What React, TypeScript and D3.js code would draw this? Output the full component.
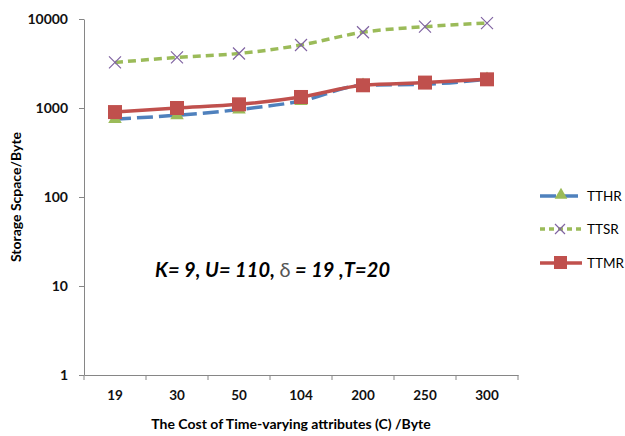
import React, { useRef, useEffect } from "react";
import * as d3 from "d3";

const categories = ["19", "30", "50", "104", "200", "250", "300"];
const tthr = [750, 830, 960, 1200, 1800, 1850, 2100];
const ttsr = [3250, 3700, 4100, 5100, 7100, 8200, 9000];
const ttmr = [900, 1000, 1100, 1330, 1800, 1930, 2100];
const yTicks = [1, 10, 100, 1000, 10000];

const App = () => {
  const svgRef = useRef<SVGSVGElement>(null);

  useEffect(() => {
    const width = 625;
    const height = 436;
    const margin = { top: 19, right: 107, bottom: 61, left: 84 };

    const svg = d3
      .select(svgRef.current)
      .attr("width", width)
      .attr("height", height)
      .style("position", "absolute")
      .style("left", 0)
      .style("top", 0)
      .html("");

    svg.append("rect").attr("width", width).attr("height", height).attr("fill", "#fff");

    const font = "Lato, 'Open Sans', sans-serif";

    const x = d3
      .scaleBand()
      .domain(categories)
      .range([margin.left, width - margin.right]);

    const y = d3
      .scaleLog()
      .domain([1, 10000])
      .range([height - margin.bottom, margin.top]);

    // y axis
    const yAxis = svg
      .append("g")
      .attr("transform", `translate(${margin.left},0)`)
      .call(d3.axisLeft(y).tickValues(yTicks).tickFormat(d3.format("d")).tickSize(5).tickSizeOuter(0));
    yAxis.select(".domain").attr("stroke", "#868686");
    yAxis.selectAll(".tick line").attr("stroke", "#868686");
    yAxis
      .selectAll(".tick text")
      .attr("x", -16)
      .attr("fill", "#111")
      .style("font-family", font)
      .style("font-size", "14px")
      .style("font-weight", "bold");

    // x axis
    const xAxis = svg
      .append("g")
      .attr("transform", `translate(0,${y(1)})`)
      .call(d3.axisBottom(x).tickSize(0).tickSizeOuter(0));
    xAxis.select(".domain").attr("stroke", "#868686");
    xAxis
      .selectAll(".tick text")
      .attr("y", 15)
      .attr("fill", "#111")
      .style("font-family", font)
      .style("font-size", "13.5px")
      .style("font-weight", "bold");
    const bounds = categories.map((c) => x(c)!).concat([width - margin.right]);
    xAxis
      .selectAll(".sep")
      .data(bounds)
      .enter()
      .append("line")
      .attr("x1", (d) => d)
      .attr("x2", (d) => d)
      .attr("y1", 0)
      .attr("y2", 5)
      .attr("stroke", "#868686");

    const cx = (i: number) => x(categories[i])! + x.bandwidth() / 2;
    const line = d3
      .line<number>()
      .x((_, i) => cx(i))
      .y((d) => y(d))
      .curve(d3.curveMonotoneX);

    // TTSR
    svg
      .append("path")
      .attr("d", line(ttsr))
      .attr("fill", "none")
      .attr("stroke", "#9BBB59")
      .attr("stroke-width", 3.5)
      .attr("stroke-dasharray", "8,5");
    ttsr.forEach((v, i) => {
      const px = cx(i);
      const py = y(v);
      svg
        .append("path")
        .attr("d", `M${px - 6},${py - 6}L${px + 6},${py + 6}M${px - 6},${py + 6}L${px + 6},${py - 6}`)
        .attr("stroke", "#8064A2")
        .attr("stroke-width", 1.2);
    });

    // TTHR
    svg
      .append("path")
      .attr("d", line(tthr))
      .attr("fill", "none")
      .attr("stroke", "#4F81BD")
      .attr("stroke-width", 3.5)
      .attr("stroke-dasharray", "16,6");
    tthr.forEach((v, i) => {
      svg
        .append("path")
        .attr("transform", `translate(${cx(i)},${y(v)})`)
        .attr("d", d3.symbol(d3.symbolTriangle, 80)())
        .attr("fill", "#9BBB59");
    });

    // TTMR
    svg
      .append("path")
      .attr("d", line(ttmr))
      .attr("fill", "none")
      .attr("stroke", "#C0504D")
      .attr("stroke-width", 3.5);
    ttmr.forEach((v, i) => {
      svg
        .append("rect")
        .attr("x", cx(i) - 7)
        .attr("y", y(v) - 7)
        .attr("width", 14)
        .attr("height", 14)
        .attr("fill", "#C0504D");
    });

    // legend
    const lx = 540;
    const legend = [
      { name: "TTHR", y: 196 },
      { name: "TTSR", y: 229 },
      { name: "TTMR", y: 263 },
    ];
    legend.forEach((l, i) => {
      const g = svg.append("g");
      if (i === 0) {
        g.append("line").attr("x1", lx).attr("x2", lx + 42).attr("y1", l.y).attr("y2", l.y)
          .attr("stroke", "#4F81BD").attr("stroke-width", 3.5).attr("stroke-dasharray", "16,6");
        g.append("path").attr("transform", `translate(${lx + 21},${l.y - 1})`)
          .attr("d", d3.symbol(d3.symbolTriangle, 70)()).attr("fill", "#9BBB59");
      } else if (i === 1) {
        g.append("line").attr("x1", lx).attr("x2", lx + 42).attr("y1", l.y).attr("y2", l.y)
          .attr("stroke", "#9BBB59").attr("stroke-width", 3.5).attr("stroke-dasharray", "5,4");
        const px = lx + 20;
        g.append("path")
          .attr("d", `M${px - 5},${l.y - 5}L${px + 5},${l.y + 5}M${px - 5},${l.y + 5}L${px + 5},${l.y - 5}`)
          .attr("stroke", "#8064A2").attr("stroke-width", 1.2);
      } else {
        g.append("line").attr("x1", lx).attr("x2", lx + 42).attr("y1", l.y).attr("y2", l.y)
          .attr("stroke", "#C0504D").attr("stroke-width", 3.5);
        g.append("rect").attr("x", lx + 14).attr("y", l.y - 7).attr("width", 13).attr("height", 13)
          .attr("fill", "#C0504D");
      }
      g.append("text")
        .attr("x", lx + 47)
        .attr("y", l.y + 5)
        .style("font-family", font)
        .style("font-size", "13.5px")
        .attr("fill", "#000")
        .text(l.name);
    });

    // annotation
    const ann = svg
      .append("text")
      .attr("x", 155)
      .attr("y", 277)
      .attr("textLength", 235)
      .style("font-family", font)
      .style("font-size", "20px")
      .style("font-weight", "bold")
      .style("font-style", "italic")
      .attr("fill", "#000");
    ann.append("tspan").text("K= 9, U= 110, ");
    ann.append("tspan").style("font-weight", "normal").style("font-style", "normal").attr("fill", "#555").text("δ");
    ann.append("tspan").text(" = 19 ,T=20");

    // axis titles
    svg
      .append("text")
      .attr("x", (margin.left + width - margin.right) / 2 - 10)
      .attr("y", 429)
      .attr("text-anchor", "middle")
      .style("font-family", font)
      .style("font-size", "14px")
      .style("font-weight", "bold")
      .attr("fill", "#000")
      .text("The Cost of Time-varying attributes (C) /Byte");

    svg
      .append("text")
      .attr("transform", `translate(21,${(margin.top + y(1)) / 2}) rotate(-90)`)
      .attr("text-anchor", "middle")
      .style("font-family", font)
      .style("font-size", "14px")
      .style("font-weight", "bold")
      .attr("fill", "#000")
      .text("Storage Scpace/Byte");
  }, []);

  return <svg ref={svgRef} />;
};

export default App;
